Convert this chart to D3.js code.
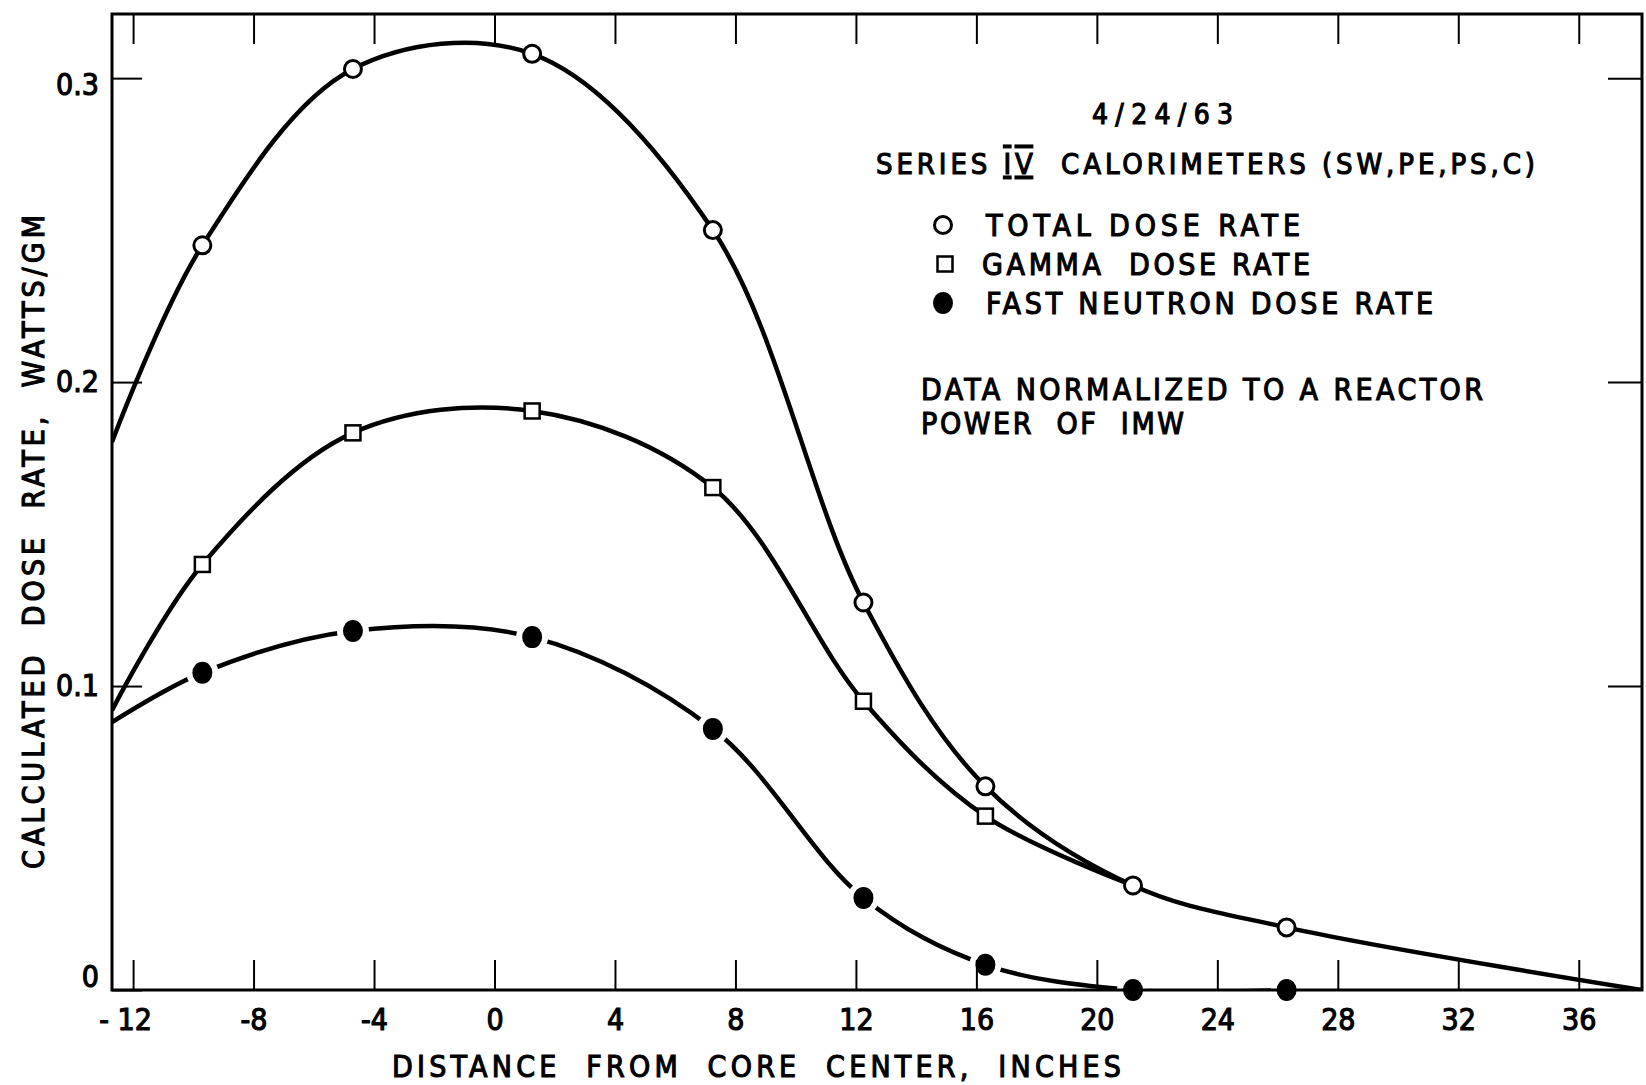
<!DOCTYPE html>
<html>
<head>
<meta charset="utf-8">
<script src="https://cdn.jsdelivr.net/npm/d3@7"></script>
<style>
  body { margin: 0; background: #fff; }
  svg { display: block; background: #fff; }
  text { font-family: "DejaVu Sans Condensed", "DejaVu Sans", sans-serif; fill: #000; stroke: #000; stroke-width: 1.1px; white-space: pre; }
  .tick line { stroke: #000; stroke-width: 2; }
  .tick text { font-size: 30px; }
</style>
</head>
<body>
<div id="chart"></div>
<script>
// Values
// distance from core center (inches) of the measured points
var xPos = [-9.7, -4.7, 1.25, 7.25, 12.25, 16.3, 21.2, 26.3];
var totalDose = [0.245, 0.303, 0.308, 0.250, 0.1275, 0.067, 0.0344, 0.0206];
var gammaDose = [0.140, 0.1833, 0.1905, 0.1653, 0.095, 0.0572];
var neutronDose = [0.1044, 0.1181, 0.1161, 0.0859, 0.0303, 0.0083, 0, 0];

// where the hand drawn curves meet the frame
var curveStartX = -12.7;
var curveEndX = 38.1;
var totalStart = 0.1803, totalEnd = 0;
var gammaStart = 0.092;
var neutronStart = 0.0881;

var xTicks = [-12, -8, -4, 0, 4, 8, 12, 16, 20, 24, 28, 32, 36];
var xTickLabels = ["- 12", "-8", "-4", "0", "4", "8", "12", "16", "20", "24", "28", "32", "36"];
var yTicks = [0, 0.1, 0.2, 0.3];
var yTickLabels = ["0", "0.1", "0.2", "0.3"];

var legendLabels = ["TOTAL DOSE RATE", "GAMMA  DOSE RATE", "FAST NEUTRON DOSE RATE"];

// Chart area
var svgWidth = 1646;
var svgHeight = 1085;
var margin = { top: 14, right: 4, bottom: 95, left: 112 };
var width = svgWidth - margin.left - margin.right;
var height = svgHeight - margin.top - margin.bottom;

var svg = d3.select("#chart")
  .append("svg")
  .attr("width", svgWidth)
  .attr("height", svgHeight);

var chartGroup = svg.append("g")
  .attr("transform", `translate(${margin.left}, ${margin.top})`);

var xScale = d3.scaleLinear().domain([curveStartX, curveEndX]).range([0, width]);
var yScale = d3.scaleLinear().domain([0, 0.3211]).range([height, 0]);

// axes, ticks pointing inward
var bottomAxis = d3.axisBottom(xScale).tickValues(xTicks)
  .tickFormat((d, i) => xTickLabels[i]).tickSizeInner(-30).tickSizeOuter(0).tickPadding(19);
var topAxis = d3.axisTop(xScale).tickValues(xTicks)
  .tickFormat("").tickSizeInner(-30).tickSizeOuter(0);
var leftAxis = d3.axisLeft(yScale).tickValues(yTicks)
  .tickFormat((d, i) => yTickLabels[i]).tickSizeInner(-30).tickSizeOuter(0).tickPadding(13);
var rightAxis = d3.axisRight(yScale).tickValues(yTicks.slice(1))
  .tickFormat("").tickSizeInner(-34).tickSizeOuter(0);

var gBottom = chartGroup.append("g").attr("transform", `translate(0, ${height})`).call(bottomAxis);
chartGroup.append("g").call(topAxis);
var gLeft = chartGroup.append("g").call(leftAxis);
chartGroup.append("g").attr("transform", `translate(${width}, 0)`).call(rightAxis);
chartGroup.selectAll(".domain").remove();

gBottom.selectAll(".tick text").filter(d => d === -12).attr("dx", "-8");
gLeft.selectAll(".tick text").filter(d => d === 0).attr("dy", "-0.12em");
gLeft.selectAll(".tick text").filter(d => d === 0.3).attr("dy", "0.55em");

// frame
chartGroup.append("rect")
  .attr("width", width)
  .attr("height", height)
  .attr("fill", "none")
  .attr("stroke", "#000")
  .attr("stroke-width", 3);

var defs = svg.append("defs");
defs.append("clipPath").attr("id", "plotArea")
  .append("rect").attr("width", width).attr("height", height);

// curves
var line = d3.line()
  .x(d => xScale(d[0]))
  .y(d => yScale(d[1]))
  .curve(d3.curveCatmullRom.alpha(0.5));

var totalCurve = [[curveStartX, totalStart]]
  .concat(xPos.map((x, i) => [x, totalDose[i]]))
  .concat([[curveEndX, totalEnd]]);
var gammaCurve = [[curveStartX, gammaStart]]
  .concat(gammaDose.map((v, i) => [xPos[i], v]))
  .concat([[xPos[6], totalDose[6]]]);
var neutronCurve = [[curveStartX, neutronStart]]
  .concat(xPos.map((x, i) => [x, neutronDose[i]]));

// gaps in the neutron curve around its dots
var mask = defs.append("mask").attr("id", "neutronGap")
  .attr("maskUnits", "userSpaceOnUse")
  .attr("x", -margin.left).attr("y", -margin.top)
  .attr("width", svgWidth).attr("height", svgHeight);
mask.append("rect")
  .attr("x", -margin.left).attr("y", -margin.top)
  .attr("width", svgWidth).attr("height", svgHeight)
  .attr("fill", "#fff");
mask.selectAll("circle")
  .data(neutronDose)
  .enter()
  .append("circle")
  .attr("cx", (d, i) => xScale(xPos[i]))
  .attr("cy", d => yScale(d))
  .attr("r", 16)
  .attr("fill", "#000");

var curves = chartGroup.append("g").attr("clip-path", "url(#plotArea)");
curves.append("path").datum(totalCurve)
  .attr("d", line).attr("fill", "none").attr("stroke", "#000").attr("stroke-width", 4.5);
curves.append("path").datum(gammaCurve)
  .attr("d", line).attr("fill", "none").attr("stroke", "#000").attr("stroke-width", 4.5);
curves.append("path").datum(neutronCurve)
  .attr("d", line).attr("fill", "none").attr("stroke", "#000").attr("stroke-width", 4.5)
  .attr("mask", "url(#neutronGap)");

// markers
function openCircle(g) {
  g.append("circle").attr("r", 8.5).attr("fill", "#fff").attr("stroke", "#000").attr("stroke-width", 3);
}
function openSquare(g) {
  g.append("rect").attr("x", -7.5).attr("y", -7.5).attr("width", 15).attr("height", 15)
    .attr("fill", "#fff").attr("stroke", "#000").attr("stroke-width", 2.5);
}
function filledDot(g) {
  g.append("ellipse").attr("rx", 10).attr("ry", 11).attr("fill", "#000");
}

chartGroup.selectAll(".totalPt")
  .data(totalDose)
  .enter()
  .append("g")
  .attr("transform", (d, i) => `translate(${xScale(xPos[i])}, ${yScale(d)})`)
  .call(openCircle);

chartGroup.selectAll(".gammaPt")
  .data(gammaDose)
  .enter()
  .append("g")
  .attr("transform", (d, i) => `translate(${xScale(xPos[i])}, ${yScale(d)})`)
  .call(openSquare);

chartGroup.selectAll(".neutronPt")
  .data(neutronDose)
  .enter()
  .append("g")
  .attr("transform", (d, i) => `translate(${xScale(xPos[i])}, ${yScale(d)})`)
  .call(filledDot);

// legend and notes
svg.append("text")
  .attr("x", 1092).attr("y", 124)
  .attr("textLength", 141).attr("lengthAdjust", "spacing")
  .style("font-size", "28px")
  .text("4/24/63");

var series = svg.append("text")
  .attr("x", 876).attr("y", 174)
  .attr("textLength", 659).attr("lengthAdjust", "spacing")
  .style("font-size", "29px");
series.append("tspan").text("SERIES ");
series.append("tspan").style("text-decoration", "overline underline").text("IV");
series.append("tspan").text("  CALORIMETERS (SW,PE,PS,C)");

var legendMarks = [openCircle, openSquare, filledDot];
var legendX = [986, 982, 986];
var legendLen = [314, 328, 447];
var legendBase = [236, 275, 314];

legendLabels.forEach(function(label, i) {
  svg.append("g")
    .attr("transform", `translate(${i === 1 ? 945 : 943}, ${legendBase[i] - 11})`)
    .call(legendMarks[i]);
  svg.append("text")
    .attr("x", legendX[i]).attr("y", legendBase[i])
    .attr("textLength", legendLen[i]).attr("lengthAdjust", "spacing")
    .style("font-size", "30px")
    .text(label);
});

svg.append("text")
  .attr("x", 921).attr("y", 400)
  .attr("textLength", 562).attr("lengthAdjust", "spacing")
  .style("font-size", "30px")
  .text("DATA NORMALIZED TO A REACTOR");
svg.append("text")
  .attr("x", 921).attr("y", 434)
  .attr("textLength", 263).attr("lengthAdjust", "spacing")
  .style("font-size", "30px")
  .text("POWER  OF  IMW");

// axis titles
svg.append("text")
  .attr("x", 392).attr("y", 1077)
  .attr("textLength", 729).attr("lengthAdjust", "spacing")
  .style("font-size", "30px")
  .text("DISTANCE  FROM  CORE  CENTER,  INCHES");

svg.append("text")
  .attr("transform", "translate(44, 542) rotate(-90)")
  .attr("text-anchor", "middle")
  .attr("textLength", 654).attr("lengthAdjust", "spacing")
  .style("font-size", "30px")
  .text("CALCULATED  DOSE  RATE,  WATTS/GM");
</script>
</body>
</html>
